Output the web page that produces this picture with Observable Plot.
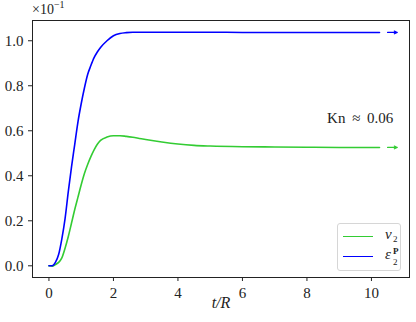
<!DOCTYPE html>
<html>
<head>
<meta charset="utf-8">
<script src="https://cdn.jsdelivr.net/npm/d3@7"></script>
<script src="https://cdn.jsdelivr.net/npm/@observablehq/plot@0.6"></script>
<style>
  body { margin: 0; background: #fff; }
  #wrap { position: relative; width: 416px; height: 322px; font-family: "Liberation Serif", "DejaVu Serif", serif; }
  #scale { position: absolute; left: 32px; top: -1px; font-size: 14px; color: #222; }
  #legend { position: absolute; left: 337px; top: 223px; width: 64px; height: 48px; box-sizing: border-box;
            border: 1px solid #d6d6d6; border-radius: 3px; background: rgba(255,255,255,0.85); font-size: 15px; color: #222; }
  .row { position: absolute; left: 5px; height: 16px; width: 56px; }
  .sw { position: absolute; left: 0; top: 7px; width: 30px; height: 0; border-top: 1.5px solid; }
  .lab { position: absolute; left: 42px; top: -3px; font-style: italic; white-space: nowrap; }
  .s { position: absolute; font-size: 9px; font-style: normal; line-height: 9px; }
</style>
</head>
<body>
<div id="wrap"></div>
<script>
const t   = [0, 0.1, 0.2, 0.3, 0.4, 0.5, 0.6, 0.7, 0.8, 0.9, 1.0, 1.1, 1.2, 1.3, 1.4, 1.5, 1.6, 1.8, 2.0, 2.2, 2.4, 2.6, 2.8, 3.0, 3.5, 4.0, 4.5, 5, 6, 7, 8, 9, 10, 10.25];
const eps = [0, 0.0, 0.015, 0.05, 0.12, 0.21, 0.33, 0.44, 0.54, 0.64, 0.72, 0.79, 0.85, 0.89, 0.925, 0.95, 0.97, 1.0, 1.022, 1.032, 1.036, 1.038, 1.038, 1.038, 1.038, 1.038, 1.038, 1.038, 1.037, 1.037, 1.037, 1.037, 1.037, 1.037];
const v2  = [0, -0.002, 0.005, 0.015, 0.035, 0.078, 0.13, 0.19, 0.25, 0.305, 0.36, 0.41, 0.45, 0.485, 0.515, 0.54, 0.557, 0.572, 0.578, 0.578, 0.575, 0.571, 0.566, 0.561, 0.55, 0.541, 0.535, 0.532, 0.529, 0.528, 0.527, 0.526, 0.526, 0.526];
const asymptotes = [{name: "eps", value: 1.037, color: "#0000ff"}, {name: "v2", value: 0.526, color: "#33cc33"}];
const xTicks = [0, 2, 4, 6, 8, 10];
const yTicks = [0.0, 0.2, 0.4, 0.6, 0.8, 1.0];
const annotation = "Kn \u2009\u2248\u2009 0.06";

const rows = t.map((d, i) => ({t: d, eps: eps[i], v2: v2[i]}));

const chart = Plot.plot({
  width: 416, height: 322,
  marginLeft: 32, marginRight: 7, marginTop: 20, marginBottom: 45,
  style: {fontFamily: '"Liberation Serif", "DejaVu Serif", serif', fontSize: "14px", color: "#222", background: "white"},
  x: {domain: [-0.51, 11.18], ticks: xTicks, tickFormat: d3.format("d"), label: null},
  y: {domain: [-0.052, 1.09], ticks: yTicks, tickFormat: d3.format(".1f"), label: null},
  marks: [
    Plot.axisX({ticks: xTicks, tickSize: 4, tickPadding: 6, fontSize: 15, label: null}),
    Plot.axisY({ticks: yTicks, tickSize: 4, tickPadding: 5, fontSize: 15, label: null}),
    Plot.line(rows, {x: "t", y: "v2", stroke: "#33cc33", strokeWidth: 1.6, curve: "monotone-x"}),
    Plot.line(rows, {x: "t", y: "eps", stroke: "#0000ff", strokeWidth: 1.6, curve: "monotone-x"}),
    Plot.arrow(asymptotes, {x1: 10.5, x2: 10.8, y1: "value", y2: "value", stroke: "color", strokeWidth: 1.2, headLength: 5, headAngle: 50}),
    Plot.text([annotation], {x: 10.68, y: 0.655, text: d => d, textAnchor: "end", fontSize: 15, fill: "#222"}),
    Plot.text(["t/R"], {frameAnchor: "bottom", dy: 30, text: d => d, fontStyle: "italic", fontSize: 16, fill: "#222"}),
    Plot.frame({stroke: "#222", strokeWidth: 1})
  ]
});

const wrap = document.getElementById("wrap");
wrap.appendChild(chart);

const scale = document.createElement("div");
scale.id = "scale";
scale.innerHTML = "\u00d710<sup style='font-size:10px'>\u22121</sup>";
wrap.appendChild(scale);

const legend = document.createElement("div");
legend.id = "legend";
legend.innerHTML =
  "<div class='row' style='top:5px'><div class='sw' style='border-color:#33cc33'></div><div class='lab'>v<span class='s' style='left:8px;top:9px'>2</span></div></div>" +
  "<div class='row' style='top:25px'><div class='sw' style='border-color:#0000ff'></div><div class='lab'>\u03b5<span class='s' style='left:8px;top:1px;font-weight:bold'>P</span><span class='s' style='left:8px;top:12px'>2</span></div></div>";
wrap.appendChild(legend);
</script>
</body>
</html>
